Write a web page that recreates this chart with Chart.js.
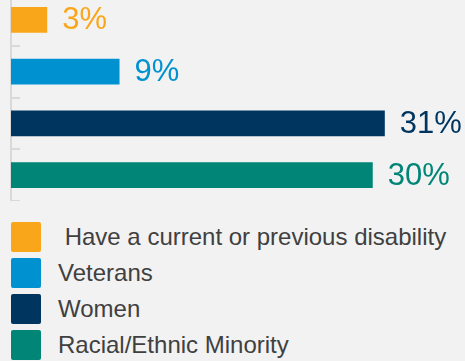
<!DOCTYPE html>
<html>

<head>
    <title>Representation</title>
    <style>
        body { margin: 0; background: #f2f2f2; width: 465px; height: 361px; overflow: hidden; position: relative; }
        #chart-box { position: absolute; left: 0; top: -6px; width: 465px; height: 207px; }
        #legend { position: absolute; left: 11px; top: 222px; font-family: "Liberation Sans", Arial, sans-serif; font-size: 24px; color: #404040; }
        .item { height: 30px; margin-bottom: 6px; display: flex; align-items: center; }
        .swatch { width: 30px; height: 30px; border-radius: 2px; margin-right: 17px; flex: none; }
        .item span { white-space: pre; line-height: 30px; }
    </style>
</head>

<body>
    <div id="chart-box">
        <canvas id="groupChart"></canvas>
    </div>
    <div id="legend"></div>

    <script src="https://cdn.jsdelivr.net/npm/chart.js"></script>
    <script type="text/javascript">
        const categories = [
            ' Have a current or previous disability',
            'Veterans',
            'Women',
            'Racial/Ethnic Minority',
        ];
        const percents = [3, 9, 31, 30];
        const colors = ['#faa61a', '#0092d0', '#00355f', '#008576'];

        // value labels at the end of each bar
        const valueLabels = {
            id: 'valueLabels',
            afterDatasetsDraw(chart) {
                const ctx = chart.ctx;
                const meta = chart.getDatasetMeta(0);
                ctx.save();
                ctx.font = '31px "Liberation Sans", Arial, sans-serif';
                ctx.textBaseline = 'middle';
                ctx.textAlign = 'left';
                meta.data.forEach((bar, i) => {
                    ctx.fillStyle = colors[i];
                    ctx.fillText(percents[i] + '%', bar.x + 15, bar.y + 1);
                });
                ctx.restore();
            }
        };

        // little tick marks between categories, pointing into the plot
        const innerTicks = {
            id: 'innerTicks',
            beforeDatasetsDraw(chart) {
                const ctx = chart.ctx;
                const y = chart.scales.y;
                const left = chart.chartArea.left;
                ctx.save();
                ctx.strokeStyle = '#d9d9d9';
                ctx.lineWidth = 2;
                for (let i = 0; i <= categories.length; i++) {
                    const py = Math.round(y.getPixelForValue(i - 0.5));
                    ctx.beginPath();
                    ctx.moveTo(left - 1, py);
                    ctx.lineTo(left + 9, py);
                    ctx.stroke();
                }
                ctx.restore();
            }
        };

        const ctxEl = document.getElementById('groupChart');
        window.groupChart = new Chart(ctxEl, {
            type: 'bar',
            data: {
                labels: categories,
                datasets: [{
                    data: percents,
                    backgroundColor: colors,
                    borderWidth: 0,
                    categoryPercentage: 1,
                    barPercentage: 0.5
                }]
            },
            options: {
                indexAxis: 'y',
                responsive: true,
                maintainAspectRatio: false,
                animation: false,
                layout: { padding: { left: 11, right: 0, top: 0, bottom: 0 } },
                plugins: {
                    legend: { display: false },
                    tooltip: { enabled: false }
                },
                scales: {
                    x: { display: false, min: 0, max: 37.65 },
                    y: {
                        grid: { display: false, drawTicks: false },
                        ticks: { display: false },
                        border: { display: true, color: '#d9d9d9', width: 2 }
                    }
                }
            },
            plugins: [valueLabels, innerTicks]
        });

        const legendEl = document.getElementById('legend');
        categories.forEach((name, i) => {
            const row = document.createElement('div');
            row.className = 'item';
            const sw = document.createElement('div');
            sw.className = 'swatch';
            sw.style.background = colors[i];
            const txt = document.createElement('span');
            txt.textContent = name;
            row.appendChild(sw);
            row.appendChild(txt);
            legendEl.appendChild(row);
        });
    </script>
</body>

</html>
